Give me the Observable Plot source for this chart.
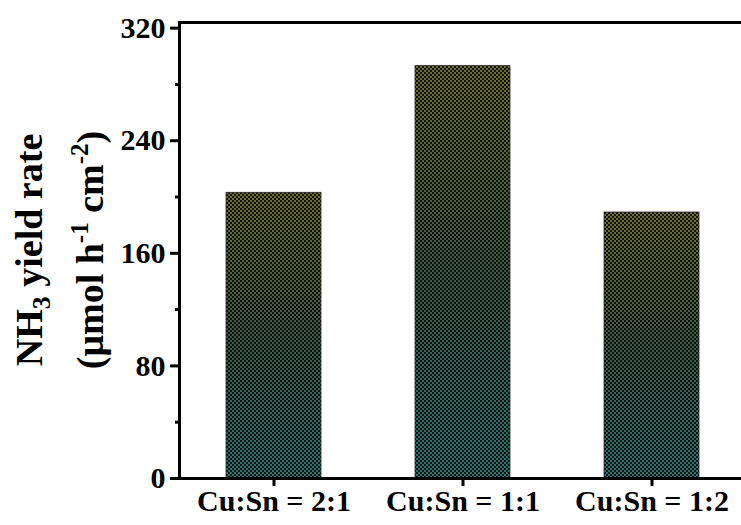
<!DOCTYPE html>
<html>
<head>
<meta charset="utf-8">
<script src="https://cdn.jsdelivr.net/npm/d3@7"></script>
<script src="https://cdn.jsdelivr.net/npm/@observablehq/plot@0.6"></script>
<style>
  html, body { margin: 0; padding: 0; background: #fff; overflow: hidden; }
  #chart svg { display: block; }
</style>
</head>
<body>
<div id="chart"></div>
<script>
// Catalyst compositions and their NH3 yield rates (µmol h^-1 cm^-2)
const ratios = ["Cu:Sn = 2:1", "Cu:Sn = 1:1", "Cu:Sn = 1:2"];
const yieldRates = [203, 293, 189];
const majorTicks = [0, 80, 160, 240, 320];
const minorTicks = [40, 120, 200, 280];

const data = ratios.map((r, i) => ({ratio: r, value: yieldRates[i]}));

const W = 741, H = 525;
const font = "'Liberation Serif', 'Times New Roman', serif";

const plot = Plot.plot({
  width: W,
  height: H,
  marginLeft: 179,
  marginRight: -5,
  marginTop: 22,
  marginBottom: 47,
  style: {fontFamily: font, fontWeight: "bold", color: "#000", background: "#fff", overflow: "visible"},
  x: {domain: ratios, paddingInner: 0.5, paddingOuter: 0.25},
  y: {domain: [0, 324]},
  marks: [
    Plot.barY(data, {x: "ratio", y: "value", fill: "url(#barGradient)"}),
    Plot.barY(data, {x: "ratio", y: "value", fill: "url(#checker)", stroke: "#2a2a2a", strokeWidth: 0.8}),
    Plot.axisY({ticks: minorTicks, tickSize: 4, strokeWidth: 3, tickFormat: () => "", label: null}),
    Plot.axisY({ticks: majorTicks, tickSize: 9, tickPadding: 5, strokeWidth: 3, label: null,
      fontSize: 30, fontWeight: "bold", fontFamily: font, tickFormat: d => String(d)}),
    Plot.axisX({tickSize: 8, tickPadding: 3, strokeWidth: 3, label: null,
      fontSize: 30, fontWeight: "bold", fontFamily: font}),
    Plot.frame({stroke: "#000", strokeWidth: 3})
  ]
});

document.getElementById("chart").appendChild(plot);

// Bar fill: olive-to-teal gradient under a fine dark checker texture
const svg = d3.select(plot);
const defs = svg.insert("defs", ":first-child");
const grad = defs.append("linearGradient")
  .attr("id", "barGradient")
  .attr("x1", 0).attr("y1", 0).attr("x2", 0).attr("y2", 1);
grad.append("stop").attr("offset", "0%").attr("stop-color", "#6f6f2b");
grad.append("stop").attr("offset", "50%").attr("stop-color", "#3e5747");
grad.append("stop").attr("offset", "100%").attr("stop-color", "#297572");
const pat = defs.append("pattern")
  .attr("id", "checker")
  .attr("patternUnits", "userSpaceOnUse")
  .attr("width", 4).attr("height", 4);
pat.append("rect").attr("x", 0).attr("y", 0).attr("width", 2).attr("height", 2).attr("fill", "#0e130f");
pat.append("rect").attr("x", 2).attr("y", 2).attr("width", 2).attr("height", 2).attr("fill", "#0e130f");

// Two-line rotated y-axis title with sub- and superscripts
const yMid = (22 + (H - 47)) / 2;
const title = svg.append("g")
  .attr("font-family", font)
  .attr("font-weight", "bold")
  .attr("font-size", 38)
  .attr("fill", "#000");

const line1 = title.append("text")
  .attr("transform", `translate(42,${yMid}) rotate(-90)`)
  .attr("text-anchor", "middle");
line1.append("tspan").text("NH");
line1.append("tspan").attr("font-size", 26).attr("dy", 8).text("3");
line1.append("tspan").attr("dy", -8).text(" yield rate");

const line2 = title.append("text")
  .attr("transform", `translate(103,${yMid}) rotate(-90)`)
  .attr("text-anchor", "middle");
line2.append("tspan").text("(μmol h");
line2.append("tspan").attr("font-size", 25).attr("dy", -15).text("-1");
line2.append("tspan").attr("dy", 15).text(" cm");
line2.append("tspan").attr("font-size", 25).attr("dy", -15).text("-2");
line2.append("tspan").attr("dy", 15).text(")");
</script>
</body>
</html>
